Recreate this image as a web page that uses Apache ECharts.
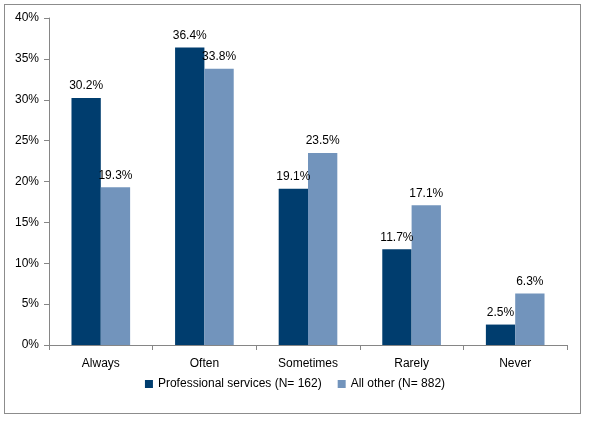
<!DOCTYPE html>
<html>
<head>
    <meta charset="utf-8">
    <script src="https://cdn.jsdelivr.net/npm/echarts@6/dist/echarts.min.js"></script>
    <style>
        html, body { margin: 0; padding: 0; background: #fff; }
        #frame { position: absolute; left: 4px; top: 4px; width: 577px; height: 410px; border: 1px solid #8c8c8c; box-sizing: border-box; }
        #chart { position: absolute; left: 0; top: 0; width: 590px; height: 426px; }
    </style>
</head>
<body>
<div id="frame"></div>
<div id="chart"></div>
<script>
  // 分类与数据
  var categories = ['Always', 'Often', 'Sometimes', 'Rarely', 'Never'];
  var seriesNames = ['Professional services (N= 162)', 'All other (N= 882)'];
  var proValues = [30.2, 36.4, 19.1, 11.7, 2.5];
  var otherValues = [19.3, 33.8, 23.5, 17.1, 6.3];
  var yTicks = [0, 5, 10, 15, 20, 25, 30, 35, 40];

  var font = 'Liberation Sans';
  var myChart = echarts.init(document.getElementById('chart'));

  var labelCfg = {
    show: true,
    position: 'top',
    distance: 6,
    color: '#000',
    fontFamily: font,
    fontSize: 12,
    formatter: function (p) { return p.value.toFixed(1) + '%'; }
  };

  var option = {
    animation: false,
    grid: { left: 49, right: 23, top: 18, bottom: 81, containLabel: false },
    legend: {
      bottom: 31,
      left: 'center',
      itemWidth: 8,
      itemHeight: 8,
      itemGap: 16,
      icon: 'rect',
      textStyle: { fontFamily: font, fontSize: 12, color: '#000' },
      data: seriesNames
    },
    xAxis: {
      type: 'category',
      data: categories,
      axisLine: { lineStyle: { color: '#868686' } },
      axisTick: { show: true, alignWithLabel: false, length: 5, lineStyle: { color: '#868686' } },
      axisLabel: { color: '#000', fontFamily: font, fontSize: 12, margin: 13 }
    },
    yAxis: {
      type: 'value',
      min: yTicks[0],
      max: yTicks[yTicks.length - 1],
      interval: 5,
      axisLine: { show: true, lineStyle: { color: '#868686' } },
      axisTick: { show: true, length: 5, lineStyle: { color: '#868686' } },
      splitLine: { show: false },
      axisLabel: { color: '#000', fontFamily: font, fontSize: 12, margin: 10, formatter: '{value}%' }
    },
    series: [{
      name: seriesNames[0],
      type: 'bar',
      data: proValues,
      barGap: '0%',
      barCategoryGap: '43.4%',
      itemStyle: { color: '#003D6E' },
      label: labelCfg
    }, {
      name: seriesNames[1],
      type: 'bar',
      data: otherValues,
      itemStyle: { color: '#7294BC' },
      label: labelCfg
    }]
  };
  // 使用刚指定的配置项和数据显示图表。
  myChart.setOption(option);
</script>
</body>
</html>
